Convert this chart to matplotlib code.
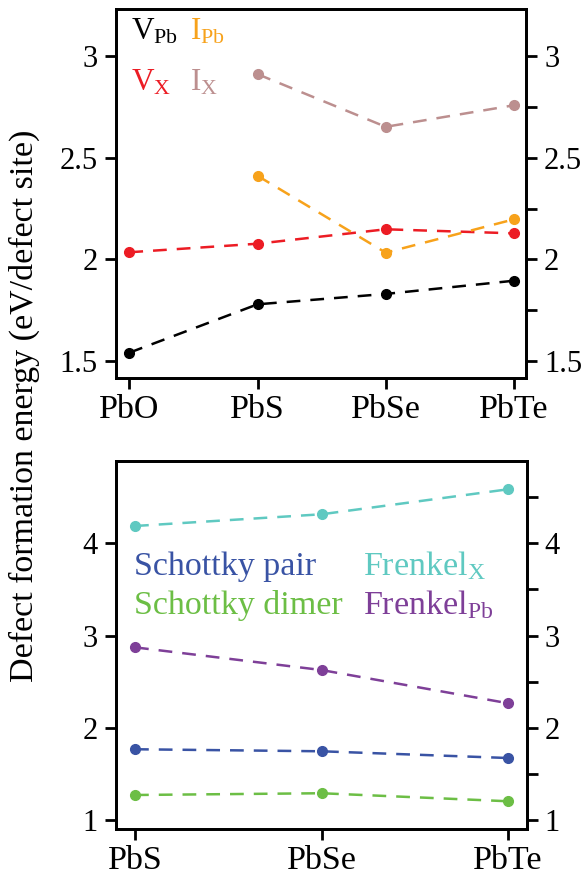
import numpy as np
import matplotlib
matplotlib.use("Agg")
import matplotlib.pyplot as plt
from matplotlib.ticker import MultipleLocator

plt.rcParams['font.family'] = ['Liberation Serif', 'DejaVu Serif']
plt.rcParams['mathtext.fontset'] = 'custom'
plt.rcParams['mathtext.rm'] = 'Liberation Serif'
plt.rcParams['mathtext.it'] = 'Liberation Serif'

# top panel: point defects
top_labels = ['PbO', 'PbS', 'PbSe', 'PbTe']
v_pb = [1.541, 1.779, 1.830, 1.895]
v_x = [2.035, 2.077, 2.148, 2.128]
i_pb = [np.nan, 2.411, 2.033, 2.197]
i_x = [np.nan, 2.911, 2.652, 2.758]

# bottom panel: defect pairs
bot_labels = ['PbS', 'PbSe', 'PbTe']
frenkel_x = [4.188, 4.315, 4.586]
frenkel_pb = [2.872, 2.626, 2.266]
schottky_pair = [1.767, 1.745, 1.672]
schottky_dimer = [1.271, 1.290, 1.203]

c_black = 'black'
c_red = '#ec1c24'
c_orange = '#f7a21b'
c_rose = '#bc8f8f'
c_blue = '#3953a4'
c_green = '#6cbe45'
c_teal = '#5fc9c1'
c_purple = '#7e3f98'

fs_y = 22
fs_x = 24.5

fig = plt.figure(figsize=(5.84, 8.81), dpi=100)
ax1 = fig.add_axes([116/584, 1-377.7/881, 410/584, 368.4/881])
ax2 = fig.add_axes([116/584, 1-829.3/881, 410.7/584, 368.6/881])


def fmt(v, pos):
    return '%g' % v


def style(ax, major, minor_right):
    for s in ax.spines.values():
        s.set_linewidth(2)
    ax.yaxis.set_major_locator(MultipleLocator(major))
    ax.yaxis.set_major_formatter(plt.FuncFormatter(fmt))
    ax.tick_params(axis='both', direction='out', length=8, width=2, pad=5)
    ax.tick_params(axis='y', labelsize=fs_y)
    ax.tick_params(axis='x', labelsize=fs_x, pad=4)
    axr = ax.twinx()
    axr.set_ylim(ax.get_ylim())
    axr.yaxis.set_major_locator(MultipleLocator(major))
    axr.yaxis.set_minor_locator(MultipleLocator(minor_right))
    axr.yaxis.set_major_formatter(plt.FuncFormatter(fmt))
    axr.tick_params(axis='y', which='both', direction='out', length=8, width=2,
                    labelsize=fs_y, pad=5)
    for s in axr.spines.values():
        s.set_linewidth(2)
    return axr


lkw = dict(ls='--', lw=1.8, marker='o', ms=7, dashes=(5.5, 4))

x1 = np.arange(len(top_labels))
ax1.plot(x1, v_pb, color=c_black, **lkw)
ax1.plot(x1, v_x, color=c_red, **lkw)
ax1.plot(x1, i_pb, color=c_orange, **lkw)
ax1.plot(x1, i_x, color=c_rose, **lkw)
ax1.set_xlim(-0.104, 3.094)
ax1.set_ylim(1.418, 3.23)
ax1.set_xticks(x1)
ax1.set_xticklabels(top_labels)
style(ax1, 0.5, 0.25)

ft = 22.5
ax1.text(0.036, 0.919, r'V$_{\mathrm{Pb}}$', color=c_black, fontsize=ft, transform=ax1.transAxes, va='baseline')
ax1.text(0.18, 0.919, r'I$_{\mathrm{Pb}}$', color=c_orange, fontsize=ft, transform=ax1.transAxes, va='baseline')
ax1.text(0.036, 0.779, r'V$_{\mathrm{X}}$', color=c_red, fontsize=ft, transform=ax1.transAxes, va='baseline')
ax1.text(0.18, 0.779, r'I$_{\mathrm{X}}$', color=c_rose, fontsize=ft, transform=ax1.transAxes, va='baseline')

x2 = np.arange(len(bot_labels))
ax2.plot(x2, frenkel_x, color=c_teal, **lkw)
ax2.plot(x2, frenkel_pb, color=c_purple, **lkw)
ax2.plot(x2, schottky_pair, color=c_blue, **lkw)
ax2.plot(x2, schottky_dimer, color=c_green, **lkw)
ax2.set_xlim(-0.102, 2.1)
ax2.set_ylim(0.899, 4.896)
ax2.set_xticks(x2)
ax2.set_xticklabels(bot_labels)
style(ax2, 1, 0.5)

fl = 24.5
ax2.text(0.044, 0.69, 'Schottky pair', color=c_blue, fontsize=fl, transform=ax2.transAxes, va='baseline')
ax2.text(0.044, 0.583, 'Schottky dimer', color=c_green, fontsize=fl, transform=ax2.transAxes, va='baseline')
ax2.text(0.602, 0.69, r'Frenkel$_{\mathrm{X}}$', color=c_teal, fontsize=fl, transform=ax2.transAxes, va='baseline')
ax2.text(0.602, 0.583, r'Frenkel$_{\mathrm{Pb}}$', color=c_purple, fontsize=fl, transform=ax2.transAxes, va='baseline')

fig.text(0.041, 0.539, 'Defect formation energy (eV/defect site)', rotation=90,
         fontsize=24.5, ha='center', va='center')

fig.savefig('out.png', dpi=100)
